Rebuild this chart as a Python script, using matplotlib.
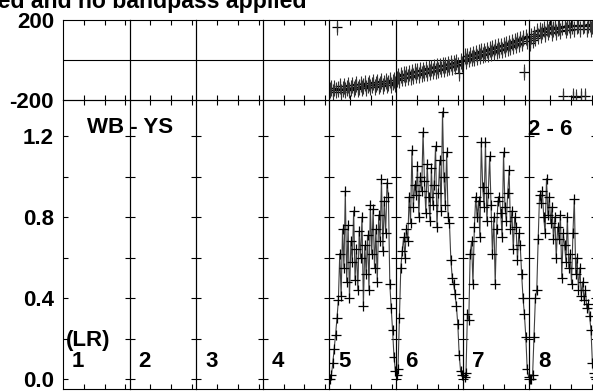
import numpy as np
import matplotlib
matplotlib.use("Agg")
import matplotlib.pyplot as plt

plt.rcParams['font.family'] = ['Liberation Sans', 'DejaVu Sans']
plt.rcParams['font.weight'] = 'bold'

# IF numbers and channels per IF
ifs = [1, 2, 3, 4, 5, 6, 7, 8]
nchan = 32
chan_ticks = [10, 20, 30]

# amplitude per IF (only IFs 5-8 have data)
amp5 = [0.00, 0.02, 0.08, 0.15, 0.22, 0.30, 0.39, 0.62, 0.41, 0.74, 0.55, 0.93,
        0.48, 0.76, 0.40, 0.68, 0.58, 0.83, 0.49, 0.64, 0.44, 0.73, 0.60, 0.80,
        0.36, 0.66, 0.52, 0.71, 0.44, 0.86, 0.62, 0.84, 0.55, 0.74, 0.48, 0.81,
        0.68, 0.99, 0.63, 0.88, 0.72, 0.97, 0.90, 0.47, 0.35, 0.24, 0.11, 0.04]
amp6 = [0.02, 0.05, 0.30, 0.55, 0.63, 0.70, 0.60, 0.74, 0.68, 0.90, 0.77, 1.13,
        0.85, 0.96, 0.91, 1.05, 0.80, 1.00, 0.93, 1.22, 0.98, 0.82, 1.06, 0.90,
        0.78, 1.04, 0.86, 0.96, 1.15, 0.75, 0.92, 1.08, 0.83, 1.32, 1.00, 0.86,
        1.12, 0.80, 0.77, 0.59, 0.50, 0.47, 0.42, 0.36, 0.27, 0.12, 0.04, 0.02]
amp7 = [0.02, 0.01, 0.03, 0.32, 0.29, 0.62, 0.68, 0.47, 0.75, 0.90, 0.80, 0.88,
        0.70, 1.17, 0.95, 0.85, 1.17, 0.78, 0.92, 1.10, 0.86, 0.62, 0.80, 0.47,
        0.74, 0.88, 0.90, 0.82, 0.70, 1.12, 0.85, 0.78, 0.92, 1.03, 0.74, 0.83,
        0.64, 0.80, 0.75, 0.59, 0.72, 0.66, 0.52, 0.40, 0.32, 0.21, 0.05, 0.01]
amp8 = [0.00, 0.00, 0.02, 0.21, 0.40, 0.44, 0.69, 0.91, 0.87, 0.93, 0.80, 0.72,
        0.99, 0.81, 0.90, 0.77, 0.85, 0.69, 0.80, 0.60, 0.75, 0.69, 0.81, 0.50,
        0.72, 0.66, 0.58, 0.80, 0.55, 0.62, 0.47, 0.72, 0.89, 0.52, 0.60, 0.44,
        0.55, 0.41, 0.48, 0.39, 0.44, 0.35, 0.37, 0.31, 0.24, 0.08, 0.03, 0.01]

# phase (degrees) per IF
ph5 = [-152, -138, -160, -140, -149, 165, -147, -132, -158, -143, -130, -152,
       -141, -127, -150, -139, -124, -146, -136, -121, -144, -133, -119, -142,
       -131, -116, -140, -127, -114, -137, -124, -111, -134, -121, -108, -131,
       -119, -105, -129, -116, -103, -126, -114, -100, -123, -111, -98, -120]
ph6 = [-95, -80, -100, -76, -92, -72, -90, -68, -86, -64, -83, -61,
       -80, -57, -76, -54, -73, -51, -70, -48, -67, -44, -64, -41,
       -60, -38, -57, -35, -54, -32, -50, -29, -47, -26, -44, -23,
       -40, -20, -37, -16, -34, -13, -31, -9, -27, -65, -6, -22]
ph7 = [0, 18, -3, 22, 4, 27, 8, 31, 12, 35, 16, 39,
       20, 43, 24, 47, 28, 51, 32, 55, 36, 60, 40, 64,
       44, 68, 48, 72, 52, 77, 57, 81, 61, 85, 65, 90,
       70, 95, 75, 99, 80, 104, 84, 109, -60, 113, 93, 120]
ph8 = [85, 118, 102, 130, 112, 143, 118, 150, 124, 145, 155, 130,
       160, 138, 153, 163, 136, 157, 165, 142, 161, 167, 146, 163,
       -180, 169, 148, 165, 173, 151, 168, -178, 154, -183, 171, 175,
       153, -180, 170, 177, -182, 156, 173, 178, 154, 171, 176, 158]

amps = {5: amp5, 6: amp6, 7: amp7, 8: amp8}
phases = {5: ph5, 6: ph6, 7: ph7, 8: ph8}

fig = plt.figure(figsize=(5.93, 3.91), dpi=100)

W, H = 593.0, 391.0
x0 = 63 / W
w = 66.6 / W
amp_b, amp_h = 2 / H, 289 / H
ph_b, ph_h = 291 / H, 80 / H

for k in ifs:
    left = x0 + (k - 1) * w
    ax_p = fig.add_axes([left, ph_b, w, ph_h])
    ax_a = fig.add_axes([left, amp_b, w, amp_h])

    for ax in (ax_p, ax_a):
        ax.patch.set_visible(False)
        ax.set_xlim(0, nchan)
        ax.set_xticks(chan_ticks)
        ax.set_xticklabels([])
        for s in ax.spines.values():
            s.set_linewidth(0.8)

    ax_p.set_ylim(-200, 200)
    ax_p.axhline(0, color='black', lw=0.8)
    ax_p.tick_params(axis='x', direction='in', top=True, bottom=True, length=3.5, width=0.8)
    if k == 1:
        ax_p.set_yticks([-200, 200])
        ax_p.set_yticklabels(['-200', '200'], fontsize=16, fontweight='bold')
        ax_p.tick_params(axis='y', length=0, pad=6.5)
    else:
        ax_p.set_yticks([])

    ax_a.set_ylim(-0.049, 1.378)
    ax_a.set_yticks([0.0, 0.2, 0.4, 0.6, 0.8, 1.0, 1.2])
    ax_a.tick_params(direction='in', top=True, bottom=True, left=True, right=True,
                     length=3.5, width=0.8, pad=6.5)
    if k == 1:
        ax_a.set_yticklabels(['0.0', '', '0.4', '', '0.8', '', '1.2'],
                             fontsize=16, fontweight='bold')
    else:
        ax_a.set_yticklabels([])

    if k in amps:
        chans = np.linspace(0.3, nchan - 0.3, len(amps[k]))
        ax_a.plot(chans, amps[k], color='0.25', lw=0.8, marker='+', ms=7,
                  mec='black', mew=0.9)
        ax_p.plot(chans, phases[k], ls='none', marker='+', ms=7, mec='black', mew=0.9)
        ax_p.plot(chans, phases[k], ls='none', marker='|', ms=11, mec='0.2', mew=0.8)

    ax_a.text(4.3, 0.059, str(k), fontsize=16, fontweight='bold', va='baseline')
    if k == 1:
        ax_a.text(1.4, 0.163, '(LR)', fontsize=16, fontweight='bold', va='baseline')
        ax_a.text(11.5, 1.215, 'WB - YS', fontsize=16, fontweight='bold', va='baseline')
    if k == 8:
        ax_a.text(20.7, 1.205, '2 - 6', fontsize=16, fontweight='bold', va='baseline',
                  ha='right')

fig.text(307 / W, 1 - 8 / H, 'calibrated and no bandpass applied', ha='right',
         va='baseline', fontsize=16.6, fontweight='bold')

fig.savefig('out.png', dpi=100)
